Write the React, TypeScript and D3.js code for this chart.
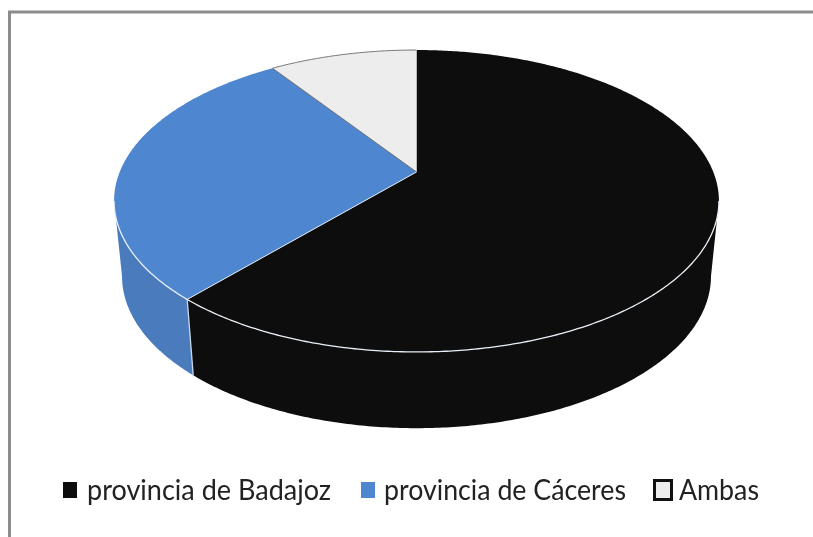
import React from "react";
import * as d3 from "d3";

const categories = ["provincia de Badajoz", "provincia de Cáceres", "Ambas"];
const shares = [61.5, 29, 9.5];
const topColors = ["#0d0d0d", "#4f86d0", "#ededed"];
const sideColors = ["#0d0d0d", "#4a7cbd", "#d8d8d8"];

const W = 813, H = 537;
const k = 0.192;
const topRim = { cx: 416.5, y0: 172, a: 296.8, b: 145.4 };
const bottomRim = { cx: 416.5, y0: 247, a: 289, b: 146.4 };
type Rim = typeof topRim;
const project = (r: Rim, t: number): [number, number] => {
  const u = Math.sin(t), f = -Math.cos(t), w = 1 - k * f;
  return [r.cx + (r.a * u) / w, r.y0 + (r.b * f) / w];
};
const samples = (a: number, b: number) => {
  const n = Math.max(2, Math.ceil((b - a) / 0.01));
  return d3.range(n + 1).map((i) => a + ((b - a) * i) / n);
};
const line = d3.line<[number, number]>();
const tangentR = Math.acos(-k);
const tangentL = 2 * Math.PI - tangentR;

const pie = d3.pie<number>().sort(null).value((d) => d);
const arcs = pie(shares);

const legendY = 499.5;
const legend = [
  { box: [63, 482, 14, 16], x: 87, w: 244, fill: "#0d0d0d", stroke: "none", sw: 0 },
  { box: [361, 482, 14, 16], x: 384, w: 242, fill: "#4f86d0", stroke: "none", sw: 0 },
  { box: [654.5, 480.5, 17, 19], x: 679, w: 80, fill: "#ededed", stroke: "#111", sw: 3 },
];

export default function App() {
  return (
    <svg width={W} height={H} viewBox={`0 0 ${W} ${H}`} style={{ position: "absolute", left: 0, top: 0 }}>
      <defs>
        <filter id="soft" x="-5%" y="-20%" width="110%" height="140%">
          <feGaussianBlur stdDeviation="0.45" />
        </filter>
      </defs>
      <rect width={W} height={H} fill="#fff" />
      <path d={`M9.5 537V12H813`} fill="none" stroke="#8c8c8c" strokeWidth={3} />
      {arcs.map((d, i) => {
        const s = Math.max(d.startAngle, tangentR), e = Math.min(d.endAngle, tangentL);
        if (s >= e) return null;
        const ts = samples(s, e);
        const pts = [...ts.map((t) => project(topRim, t)), ...ts.slice().reverse().map((t) => project(bottomRim, t))];
        return <path key={i} d={line(pts)! + "Z"} fill={sideColors[i]} />;
      })}
      {arcs.map((d, i) => {
        const pts: [number, number][] = [[topRim.cx, topRim.y0], ...samples(d.startAngle, d.endAngle).map((t) => project(topRim, t))];
        return <path key={i} d={line(pts)! + "Z"} fill={topColors[i]} />;
      })}
      <path d={line(samples(tangentR, arcs[1].endAngle > tangentL ? tangentL : arcs[1].endAngle).map((t) => project(topRim, t)))!} fill="none" stroke="#e8eef6" strokeWidth={1.3} />
      <path d={line([project(topRim, arcs[0].endAngle), project(bottomRim, arcs[0].endAngle)])!} fill="none" stroke="#c9d6e6" strokeWidth={1.3} />
      <path d={line([[topRim.cx, topRim.y0], project(topRim, arcs[0].endAngle)])!} fill="none" stroke="#dfe8f4" strokeWidth={1} />
      <path d={line(samples(arcs[2].startAngle, arcs[2].endAngle).map((t) => project(topRim, t)))!} fill="none" stroke="#777" strokeWidth={1} />
      <path d={line([[topRim.cx, topRim.y0], project(topRim, arcs[2].startAngle)])!} fill="none" stroke="#555" strokeWidth={0.8} />
      {legend.map((l, i) => (
        <g key={i}>
          <rect x={l.box[0]} y={l.box[1]} width={l.box[2]} height={l.box[3]} fill={l.fill} stroke={l.stroke} strokeWidth={l.sw} />
          <text x={l.x} y={legendY} fontFamily="Lato, 'Open Sans', sans-serif" fontSize={29} fill="#222" filter="url(#soft)" textLength={l.w} lengthAdjust="spacingAndGlyphs">{categories[i]}</text>
        </g>
      ))}
    </svg>
  );
}
